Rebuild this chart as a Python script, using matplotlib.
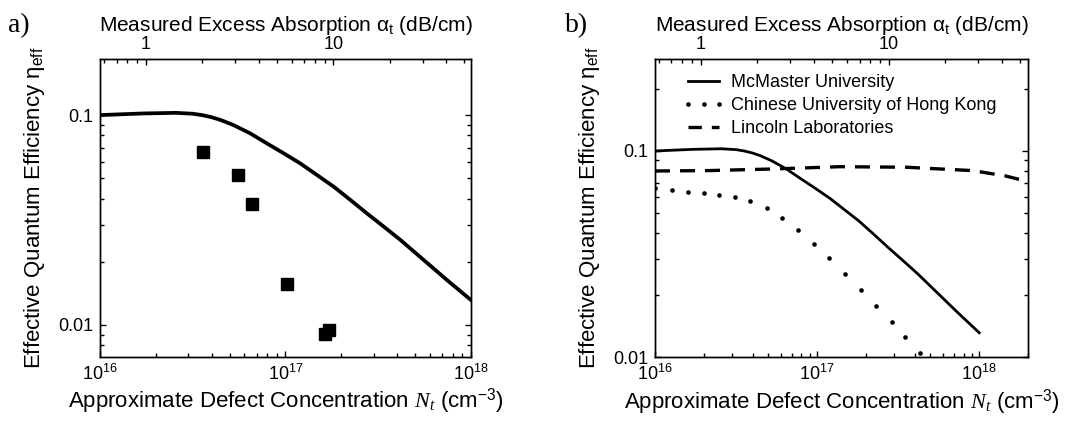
import matplotlib
matplotlib.use("Agg")
import matplotlib.pyplot as plt
from matplotlib.ticker import LogLocator, NullFormatter

# McMaster model curve (same in both panels)
mcmaster_n = [1.0e16, 1.70e16, 2.57e16, 3.16e16, 3.55e16, 3.98e16, 4.47e16, 5.25e16, 6.46e16, 7.94e16,
              9.77e16, 1.20e17, 1.48e17, 1.82e17, 2.24e17, 2.75e17, 3.39e17, 4.17e17, 7.41e17, 1.0e18]
mcmaster_eta = [0.100, 0.1018, 0.1025, 0.1015, 0.1000, 0.0978, 0.0948, 0.0896, 0.0818, 0.0733,
                0.0658, 0.0589, 0.0518, 0.0456, 0.0394, 0.0340, 0.0294, 0.0254, 0.0164, 0.01315]

# measured points, panel a
meas_n = [3.61e16, 5.52e16, 6.58e16, 1.014e17, 1.633e17, 1.72e17]
meas_eta = [0.0668, 0.0518, 0.0376, 0.01563, 0.00904, 0.00946]

# Chinese University of Hong Kong
cuhk_n = [1.005e16, 1.274e16, 1.589e16, 1.991e16, 2.489e16, 3.105e16, 3.873e16, 4.887e16, 6.095e16,
          7.638e16, 9.506e16, 1.191e17, 1.496e17, 1.858e17, 2.317e17, 2.877e17, 3.508e17, 4.325e17]
cuhk_eta = [0.0659, 0.0647, 0.0635, 0.0624, 0.0612, 0.0597, 0.0573, 0.0531, 0.0475,
            0.0414, 0.0355, 0.0302, 0.0254, 0.0213, 0.0178, 0.0149, 0.0125, 0.0105]

# Lincoln Laboratories
lincoln_n = [1.0e16, 2.09e16, 5.37e16, 1.38e17, 3.55e17, 9.12e17, 1.45e18, 2.0e18]
lincoln_eta = [0.0800, 0.0803, 0.0818, 0.0839, 0.0834, 0.0803, 0.0757, 0.0710]

plt.rcParams["font.family"] = ["Liberation Sans", "DejaVu Sans"]
plt.rcParams["mathtext.fontset"] = "custom"
plt.rcParams["mathtext.rm"] = "Liberation Sans"
plt.rcParams["mathtext.it"] = "Liberation Serif:italic"
plt.rcParams["axes.linewidth"] = 1.0

XLABEL = "Approximate Defect Concentration $N_t$ (cm$^{-3}$)"
YLABEL = "Effective Quantum Efficiency \u03b7$_{\\mathrm{eff}}$"
TOPLABEL = "Measured Excess Absorption \u03b1$_{\\mathrm{t}}$ (dB/cm)"


def setup_axes(ax, xlim, ylim, toplim):
    ax.set_xscale("log")
    ax.set_yscale("log")
    ax.set_xlim(*xlim)
    ax.set_ylim(*ylim)
    ax.set_yticks([0.01, 0.1], labels=["0.01", "0.1"])
    ax.yaxis.set_minor_locator(LogLocator(subs=range(2, 10)))
    ax.yaxis.set_minor_formatter(NullFormatter())
    ax.xaxis.set_minor_formatter(NullFormatter())
    ax.tick_params(which="both", direction="in", right=True, top=False, width=1.0, labelsize=13, pad=5)
    ax.tick_params(which="major", length=4.5)
    ax.tick_params(which="minor", length=2.8)
    ax.set_xlabel(XLABEL, fontsize=16, labelpad=2)
    ax.set_ylabel(YLABEL, fontsize=16, labelpad=8)

    top = ax.twiny()
    top.set_xscale("log")
    top.set_xlim(*toplim)
    top.set_xticks([1, 10], labels=["1", "10"])
    top.xaxis.set_minor_locator(LogLocator(subs=range(2, 10)))
    top.xaxis.set_minor_formatter(NullFormatter())
    top.tick_params(which="both", direction="in", width=1.0, labelsize=13, pad=4)
    top.tick_params(which="major", length=4.5)
    top.tick_params(which="minor", length=2.8)
    top.set_xlabel(TOPLABEL, fontsize=15, labelpad=4)
    return top


fig = plt.figure(figsize=(10.74, 4.24), dpi=100)

ax_a = fig.add_axes([0.0931, 0.1587, 0.3454, 0.7021])
ax_a.plot(mcmaster_n, mcmaster_eta, color="black", lw=2.7)
ax_a.plot(meas_n, meas_eta, ls="none", marker="s", ms=8.5, color="black")
setup_axes(ax_a, (1e16, 1e18), (0.00706, 0.185), (0.571, 54.2))

ax_b = fig.add_axes([0.6099, 0.1573, 0.3473, 0.7035])
ax_b.plot(mcmaster_n, mcmaster_eta, color="black", lw=2.0, label="McMaster University")
ax_b.plot(cuhk_n, cuhk_eta, ls="none", marker="o", ms=2.3, color="black",
          label="Chinese University of Hong Kong")
ax_b.plot(lincoln_n, lincoln_eta, color="black", lw=2.4, dashes=(4.5, 3.0), label="Lincoln Laboratories")
setup_axes(ax_b, (1e16, 2e18), (0.01, 0.279), (0.573, 55.0))
leg = ax_b.legend(loc="upper left", bbox_to_anchor=(0.075, 0.95), frameon=False, fontsize=13,
                  numpoints=3, handlelength=2.3, handletextpad=0.35, labelspacing=0.33,
                  borderpad=0, borderaxespad=0)
# two whole dashes in the legend sample, as in the original
leg.get_lines()[2].set_dashes((4.0, 3.0))

fig.text(8 / 1074, 1 - 26 / 424, "a)", family="Liberation Serif", fontsize=20, va="center")
fig.text(565 / 1074, 1 - 26 / 424, "b)", family="Liberation Serif", fontsize=20, va="center")

fig.savefig("out.png", dpi=100)
